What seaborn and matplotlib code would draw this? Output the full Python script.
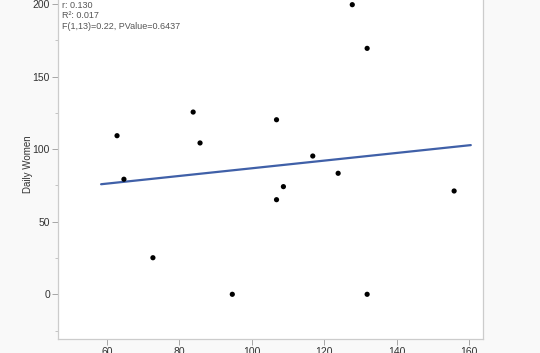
import numpy as np
import pandas as pd
import seaborn as sns
import matplotlib
import matplotlib.pyplot as plt

matplotlib.use('Agg')

# values
x_vals = [62.8, 64.7, 72.7, 83.8, 85.7, 94.6, 106.8, 106.8, 108.7, 116.8,
          123.8, 127.7, 131.8, 131.8, 155.8]
daily_women = [109.3, 79.3, 25.2, 125.6, 104.3, 0, 120.3, 65.2, 74.2, 95.3,
               83.4, 199.6, 169.5, 0, 71.2]
stat_lines = ['r: 0.130', 'R\u00b2: 0.017', 'F(1,13)=0.22, PValue=0.6437']
x_ticks = [60, 80, 100, 120, 140, 160]
y_ticks = [0, 50, 100, 150, 200]

df = pd.DataFrame({'x': x_vals, 'Daily Women': daily_women})

sns.set_style('white')
plt.rcParams['font.family'] = ['Liberation Sans', 'DejaVu Sans']

fig = plt.figure(figsize=(5.4, 3.53), dpi=100)
fig.patch.set_facecolor('#f9f9f9')
ax = fig.add_axes([0.108, 0.0397, 0.786, 0.9898])
ax.set_facecolor('white')

# fitted line over the span shown in the reference
slope, icept = np.polyfit(df['x'], df['Daily Women'], 1)
fit_x = np.array([58.4, 160.4])
ax.plot(fit_x, icept + slope * fit_x, color='#4060a8', lw=1.6, zorder=2)

sns.scatterplot(data=df, x='x', y='Daily Women', color='black', s=14,
                edgecolor='none', ax=ax, zorder=3)

ax.set_xlim(46.6, 163.7)
ax.set_ylim(-30.8, 210)
ax.set_xticks(x_ticks)
ax.set_yticks(y_ticks)
ax.set_yticks([-25, 25, 75, 125, 175], minor=True)
ax.tick_params(axis='both', which='major', length=4, width=0.6, color='#999999',
               labelsize=7.5, labelcolor='#333333', pad=2, bottom=True, left=True)
ax.tick_params(axis='y', which='minor', length=2.5, width=0.6, color='#bbbbbb', left=True)
for s in ax.spines.values():
    s.set_color('#cccccc')
    s.set_linewidth(0.9)

ax.set_xlabel('')
ax.set_ylabel('Daily Women', fontsize=7, color='#333333', labelpad=0)

for i, t in enumerate(stat_lines):
    fig.text(62 / 540, 1 - (5 + 10.6 * i) / 353, t, fontsize=6.5, color='#555555',
             va='center', ha='left')

fig.savefig('out.png', dpi=100, facecolor=fig.get_facecolor())
